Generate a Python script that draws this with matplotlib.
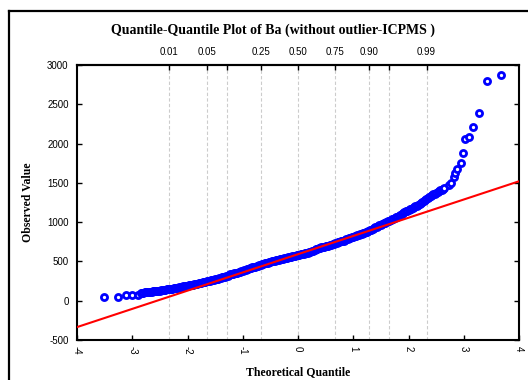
import numpy as np
import matplotlib
matplotlib.use("Agg")
import matplotlib.pyplot as plt
from matplotlib.lines import Line2D
from statistics import NormalDist

# --- data ---
title = "Quantile-Quantile Plot of Ba (without outlier-ICPMS )"
x_label = "Theoretical Quantile"
y_label = "Observed Value"

# theoretical quantile / observed value pairs (sorted), low tail, dense band, high tail
q_vals = [
    -3.52, -3.26, -3.12, -3.00, -2.90,
    -2.850, -2.825, -2.800, -2.775, -2.750, -2.725, -2.700, -2.675, -2.650, -2.625,
    -2.600, -2.575, -2.550, -2.525, -2.500, -2.475, -2.450, -2.425, -2.400, -2.375,
    -2.350, -2.325, -2.300, -2.275, -2.250, -2.225, -2.200, -2.175, -2.150, -2.125,
    -2.100, -2.075, -2.050, -2.025, -2.000, -1.975, -1.950, -1.925, -1.900, -1.875,
    -1.850, -1.825, -1.800, -1.775, -1.750, -1.725, -1.700, -1.675, -1.650, -1.625,
    -1.600, -1.575, -1.550, -1.525, -1.500, -1.475, -1.450, -1.425, -1.400, -1.375,
    -1.350, -1.325, -1.300, -1.275, -1.250, -1.225, -1.200, -1.175, -1.150, -1.125,
    -1.100, -1.075, -1.050, -1.025, -1.000, -0.975, -0.950, -0.925, -0.900, -0.875,
    -0.850, -0.825, -0.800, -0.775, -0.750, -0.725, -0.700, -0.675, -0.650, -0.625,
    -0.600, -0.575, -0.550, -0.525, -0.500, -0.475, -0.450, -0.425, -0.400, -0.375,
    -0.350, -0.325, -0.300, -0.275, -0.250, -0.225, -0.200, -0.175, -0.150, -0.125,
    -0.100, -0.075, -0.050, -0.025, 0.000, 0.025, 0.050, 0.075, 0.100, 0.125,
    0.150, 0.175, 0.200, 0.225, 0.250, 0.275, 0.300, 0.325, 0.350, 0.375,
    0.400, 0.425, 0.450, 0.475, 0.500, 0.525, 0.550, 0.575, 0.600, 0.625,
    0.650, 0.675, 0.700, 0.725, 0.750, 0.775, 0.800, 0.825, 0.850, 0.875,
    0.900, 0.925, 0.950, 0.975, 1.000, 1.025, 1.050, 1.075, 1.100, 1.125,
    1.150, 1.175, 1.200, 1.225, 1.250, 1.275, 1.300, 1.325, 1.350, 1.375,
    1.400, 1.425, 1.450, 1.475, 1.500, 1.525, 1.550, 1.575, 1.600, 1.625,
    1.650, 1.675, 1.700, 1.725, 1.750, 1.775, 1.800, 1.825, 1.850, 1.875,
    1.900, 1.925, 1.950, 1.975, 2.000, 2.025, 2.050, 2.075, 2.100, 2.125,
    2.150, 2.175, 2.200, 2.225, 2.250, 2.275, 2.300, 2.325, 2.350, 2.375,
    2.400, 2.425, 2.450, 2.475, 2.500, 2.525, 2.550, 2.575, 2.600, 2.625,
    2.650,
    2.74, 2.77, 2.82, 2.84, 2.88, 2.95, 2.98, 3.02, 3.09, 3.16, 3.28, 3.42, 3.67,
]
obs_vals = [
    43, 43, 68, 70, 72,
    100, 101, 103, 105, 107, 110, 112, 115, 117, 120,
    122, 124, 126, 128, 130, 133, 136, 139, 142, 145,
    147, 150, 152, 155, 158, 161, 164, 167, 170, 174,
    177, 181, 184, 187, 190, 194, 197, 201, 205, 209,
    213, 217, 220, 224, 228, 232, 236, 241, 245, 249,
    253, 258, 262, 267, 272, 276, 281, 285, 290, 296,
    301, 307, 313, 320, 328, 334, 340, 345, 350, 354,
    358, 363, 368, 373, 378, 385, 392, 398, 405, 411,
    418, 424, 430, 435, 441, 446, 452, 457, 463, 468,
    474, 479, 485, 490, 496, 501, 506, 510, 515, 519,
    524, 528, 533, 537, 541, 545, 550, 553, 557, 561,
    565, 568, 572, 576, 580, 584, 589, 593, 597, 601,
    606, 610, 615, 622, 630, 637, 645, 652, 660, 667,
    673, 678, 683, 688, 693, 697, 702, 707, 712, 718,
    724, 730, 736, 742, 748, 754, 760, 766, 773, 780,
    787, 794, 801, 807, 814, 820, 827, 833, 840, 846,
    852, 858, 865, 872, 880, 888, 897, 905, 913, 922,
    932, 941, 950, 960, 970, 978, 986, 994, 1003, 1011,
    1020, 1028, 1036, 1044, 1053, 1061, 1070, 1080, 1090, 1101,
    1112, 1125, 1138, 1148, 1158, 1165, 1173, 1181, 1190, 1200,
    1210, 1221, 1232, 1245, 1258, 1271, 1284, 1296, 1308, 1319,
    1330, 1341, 1352, 1363, 1374, 1385, 1395, 1404, 1413, 1422,
    1430,
    1473, 1494, 1579, 1622, 1677, 1757, 1880, 2054, 2080, 2211, 2389, 2793, 2873,
]

# reference line (mean / sd of fitted normal)
line_mean = 592
line_sd = 232

prob_ticks = [0.01, 0.05, 0.10, 0.25, 0.50, 0.75, 0.90, 0.95, 0.99]
prob_labels = ["0.01", "0.05", "", "0.25", "0.50", "0.75", "0.90", "", "0.99"]
x_ticks = [-4, -3, -2, -1, 0, 1, 2, 3, 4]
y_ticks = [-500, 0, 500, 1000, 1500, 2000, 2500, 3000]

SERIF = "Liberation Serif"
SANS = "Liberation Sans"

fig = plt.figure(figsize=(5.28, 3.80), dpi=100, facecolor="white")
ax = fig.add_axes([77 / 528, 1 - 340 / 380, (519 - 77) / 528, (340 - 65) / 380])

# outer frame (top + left edges)
fig.add_artist(Line2D([9 / 528, 1.0], [1 - 11 / 380, 1 - 11 / 380], color="black", lw=1.6,
                      transform=fig.transFigure))
fig.add_artist(Line2D([9 / 528, 9 / 528], [0.0, 1 - 11 / 380], color="black", lw=1.6,
                      transform=fig.transFigure))

# quantile grid lines
nd = NormalDist()
prob_pos = [nd.inv_cdf(p) for p in prob_ticks]
for zp in prob_pos:
    ax.axvline(zp, color="#cccccc", lw=0.8, ls=(0, (3, 2)), zorder=0)

ax.plot(q_vals, obs_vals, "o", ms=4.4, mfc="white", mec="#0000ff", mew=2.0,
        ls="none", zorder=2)

# red reference line across the axis
xl = np.array([-4.2, 4.2])
ax.plot(xl, line_mean + line_sd * xl, color="#ff0000", lw=1.5, zorder=3)

ax.set_xlim(-4, 4)
ax.set_ylim(-500, 3000)
ax.set_xticks(x_ticks)
ax.set_xticklabels([str(t) for t in x_ticks], rotation=-90, fontsize=7, family=SANS)
ax.set_yticks(y_ticks)
ax.set_yticklabels([str(t) for t in y_ticks], fontsize=7, family=SANS)
ax.tick_params(axis="both", direction="in", length=3.5, width=1.0, pad=6,
               right=True)
ax.tick_params(axis="x", pad=4)
for sp in ax.spines.values():
    sp.set_linewidth(1.5)

top = ax.secondary_xaxis("top")
top.set_xticks(prob_pos)
top.set_xticklabels(prob_labels, fontsize=7, family=SANS)
top.tick_params(direction="in", length=3.5, width=1.0, pad=6)
top.spines["top"].set_linewidth(1.5)

fig.text(273 / 528, 1 - 30 / 380, title, ha="center", va="center",
         fontsize=10, fontweight="bold", family=SERIF)
fig.text(298 / 528, 1 - 372 / 380, x_label, ha="center", va="center",
         fontsize=8.5, fontweight="bold", family=SERIF)
fig.text(28 / 528, 1 - 202 / 380, y_label, ha="center", va="center", rotation=90,
         fontsize=8.5, fontweight="bold", family=SERIF)

fig.savefig("out.png", dpi=100, facecolor="white")
